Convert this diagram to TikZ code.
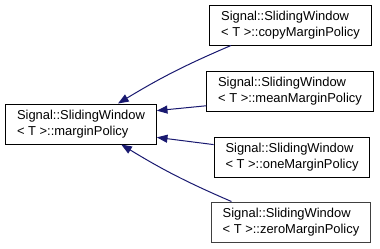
\documentclass[tikz,border=0pt]{standalone}
\usepackage{fontspec}
\setmainfont{Liberation Sans}
\usetikzlibrary{arrows.meta,positioning}
\definecolor{inhblue}{RGB}{25,25,112}
\tikzset{
  clsbox/.style={
    rectangle, draw=black, fill=white, line width=0.75pt,
    minimum height=30pt, inner xsep=8.5pt, inner ysep=2pt,
    align=left, font=\fontsize{9.7}{11.8}\selectfont
  },
  inhedge/.style={{Triangle[length=8pt,width=6pt,fill=inhblue]}-,draw=inhblue,line width=0.75pt}
}

\begin{document}
\begin{tikzpicture}[x=0.75pt,y=-0.75pt]
  \useasboundingbox (0,0) rectangle (380,248);
  \node[clsbox] (base) at (81,124) {Signal::SlidingWindow\\< T >::marginPolicy};
  \node[clsbox] (copy) at (290.5,25) {Signal::SlidingWindow\\< T >::copyMarginPolicy};
  \node[clsbox] (mean) at (290,91) {Signal::SlidingWindow\\< T >::meanMarginPolicy};
  \node[clsbox] (one) at (292,157) {Signal::SlidingWindow\\< T >::oneMarginPolicy};
  \node[clsbox,draw=black!75] (zero) at (291,222) {Signal::SlidingWindow\\< T >::zeroMarginPolicy};
  \draw[inhedge] (base.29) to[bend left=4] (copy.199);
  \draw[inhedge] (base.10) -- (mean.190);
  \draw[inhedge] (base.350) -- (one.171);
  \draw[inhedge] (base.333) to[bend right=4] (zero.161);
\end{tikzpicture}
\end{document}
